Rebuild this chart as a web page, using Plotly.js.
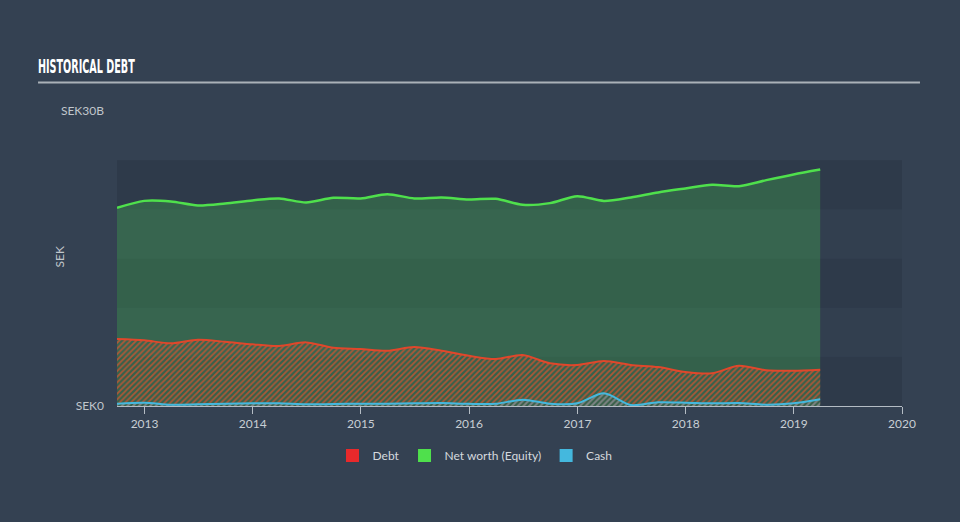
<!DOCTYPE html>
<html><head><meta charset="utf-8">
<script src="https://cdn.plot.ly/plotly-3.0.1.min.js"></script>
<style>html,body{margin:0;padding:0;background:#344152;}#chart{width:960px;height:522px;}</style>
</head><body><div id="chart"></div>
<script>
const dates = ['2012-09-30','2012-12-31','2013-03-31','2013-06-30','2013-09-30','2013-12-31','2014-03-31','2014-06-30','2014-09-30','2014-12-31','2015-03-31','2015-06-30','2015-09-30','2015-12-31','2016-03-31','2016-06-30','2016-09-30','2016-12-31','2017-03-31','2017-06-30','2017-09-30','2017-12-31','2018-03-31','2018-06-30','2018-09-30','2018-12-31','2019-03-31'];
const equity = [20.15,20.86,20.80,20.40,20.60,20.91,21.11,20.70,21.17,21.11,21.54,21.11,21.21,21.00,21.07,20.46,20.63,21.34,20.86,21.21,21.72,22.12,22.49,22.36,22.97,23.55,24.05];
const debt = [6.81,6.68,6.37,6.74,6.53,6.27,6.10,6.47,5.92,5.79,5.62,6.00,5.62,5.11,4.78,5.18,4.34,4.17,4.57,4.17,3.96,3.46,3.32,4.10,3.63,3.59,3.69];
const cash = [0.23,0.34,0.13,0.17,0.23,0.27,0.27,0.17,0.20,0.23,0.23,0.27,0.30,0.22,0.23,0.64,0.23,0.27,1.29,0.10,0.38,0.34,0.27,0.30,0.13,0.27,0.68];
const seriesNames = ['Debt','Net worth (Equity)','Cash'];
const seriesColors = ['#e8292b','#4fe04c','#44b8de'];
const yTickVals = [0,30];
const yTickText = ['SEK0','SEK30B'];
const xTickVals = ['2013-01-01','2014-01-01','2015-01-01','2016-01-01','2017-01-01','2018-01-01','2019-01-01','2020-01-01'];
const xTickText = ['2013','2014','2015','2016','2017','2018','2019','2020'];
const bandEdges = [0,5,10,15,20,25];

const font = 'Lato, "Open Sans", sans-serif';

const traces = [
  {x: dates, y: equity, type:'scatter', mode:'lines', fill:'tozeroy',
   fillcolor:'rgba(70,200,80,0.28)', line:{color:'#4fe04c', width:2.5, shape:'spline', smoothing:0.8},
   showlegend:false, hoverinfo:'skip'},
  {x: dates, y: debt, type:'scatter', mode:'lines', fill:'tozeroy',
   fillcolor:'rgba(0,0,0,0)',
   fillpattern:{shape:'/', fgcolor:'rgba(214,84,48,0.75)', bgcolor:'rgba(0,0,0,0)', size:4, solidity:0.45},
   line:{color:'#e0472b', width:2, shape:'spline', smoothing:0.8},
   showlegend:false, hoverinfo:'skip'},
  {x: dates, y: cash, type:'scatter', mode:'lines', fill:'tozeroy',
   fillcolor:'rgba(0,0,0,0)',
   fillpattern:{shape:'/', fgcolor:'rgba(68,184,222,0.5)', bgcolor:'rgba(0,0,0,0)', size:4, solidity:0.45},
   line:{color:'#44b8de', width:2, shape:'spline', smoothing:0.8},
   showlegend:false, hoverinfo:'skip'}
];
seriesNames.forEach((n,i)=>{
  traces.push({x:[null], y:[null], type:'scatter', mode:'markers', name:n,
    marker:{symbol:'square', size:13, color:seriesColors[i]}, showlegend:true});
});

const shapes = [];
for (let i=0;i<bandEdges.length-1;i++){
  shapes.push({type:'rect', xref:'paper', yref:'y', x0:0, x1:1, y0:bandEdges[i], y1:bandEdges[i+1],
    fillcolor: (i%2===0)?'#2e3a4a':'#323f4f', line:{width:0}, layer:'below'});
}
shapes.push({type:'line', xref:'paper', yref:'paper', x0:-0.1006, x1:1.0229, y0:1.0966, y1:1.0966,
  line:{color:'#aab1b8', width:2}});

const layout = {
  width:960, height:522,
  paper_bgcolor:'#344152', plot_bgcolor:'rgba(0,0,0,0)',
  margin:{l:117, r:58, t:111, b:116},
  font:{family:font, color:'#c8ced4'},
  title:{text:'<b>HISTORICAL DEBT</b>', xref:'container', x:38/960, xanchor:'left', yref:'container', y:1-66/522, yanchor:'middle',
    font:{family:'"DejaVu Sans Condensed", "Liberation Sans Narrow", sans-serif', size:19, color:'#ffffff'}},
  xaxis:{type:'date', range:['2012-09-30','2020-01-01'], tickvals:xTickVals, ticktext:xTickText,
    showgrid:false, zeroline:false, showline:true, linecolor:'#b4bcc4', linewidth:1,
    ticks:'outside', ticklen:7, tickcolor:'#b4bcc4', tickwidth:1,
    tickfont:{size:12, color:'#c8ced4', family:font}},
  yaxis:{range:[0,30], tickvals:yTickVals, ticktext:yTickText, showgrid:false, zeroline:false, showline:false,
    ticks:'', ticklabelstandoff:12, tickfont:{size:12, color:'#c0c6cc', family:font}},
  legend:{orientation:'h', xref:'container', yref:'container', x:475/960, xanchor:'center', y:1-441/522, yanchor:'top',
    font:{size:12, color:'#d4d9de', family:font}, bgcolor:'rgba(0,0,0,0)'},
  shapes:shapes,
  annotations:[{text:'SEK', xref:'paper', yref:'paper', x:-0.0733, y:0.505, xanchor:'center', yanchor:'middle', showarrow:false, textangle:-90,
    font:{size:12, color:'#c0c6cc', family:font}}]
};
Plotly.newPlot('chart', traces, layout, {displayModeBar:false, staticPlot:true}).then(gd=>{
  const t = gd.querySelector('.gtitle');
  if (t) {
    const bb = t.getBBox();
    const target = 97;
    if (bb.width > 0) {
      const sx = target / bb.width;
      const x0 = bb.x;
      t.setAttribute('transform', 'translate(' + (38 - x0*sx) + ',0) scale(' + sx + ',1)');
    }
  }
});
</script></body></html>
